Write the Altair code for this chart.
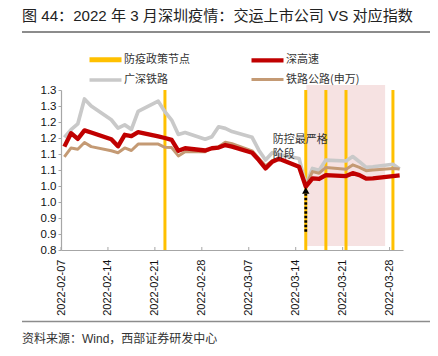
import altair as alt
import pandas as pd

# ---------------- data ----------------
dates = ["2022-02-07", "2022-02-08", "2022-02-09", "2022-02-10", "2022-02-11",
         "2022-02-14", "2022-02-15", "2022-02-16", "2022-02-17", "2022-02-18",
         "2022-02-21", "2022-02-22", "2022-02-23", "2022-02-24", "2022-02-25",
         "2022-02-28", "2022-03-01", "2022-03-02", "2022-03-03", "2022-03-04",
         "2022-03-07", "2022-03-08", "2022-03-09", "2022-03-10", "2022-03-11",
         "2022-03-14", "2022-03-15", "2022-03-16", "2022-03-17", "2022-03-18",
         "2022-03-21", "2022-03-22", "2022-03-23", "2022-03-24", "2022-03-25",
         "2022-03-28", "2022-03-29"]

shengaosu = [1.123, 1.165, 1.147, 1.174, 1.167, 1.146, 1.124, 1.160, 1.156, 1.168,
             1.155, 1.150, 1.144, 1.110, 1.118, 1.111, 1.118, 1.120, 1.128, 1.123,
             1.104, 1.081, 1.055, 1.076, 1.085, 1.060, 0.998, 1.024, 1.022, 1.034,
             1.031, 1.040, 1.034, 1.023, 1.024, 1.031, 1.033]

guangshen = [1.152, 1.176, 1.194, 1.272, 1.250, 1.207, 1.181, 1.191, 1.177, 1.233,
             1.265, 1.232, 1.206, 1.161, 1.167, 1.146, 1.154, 1.185, 1.180, 1.170,
             1.152, 1.112, 1.081, 1.104, 1.098, 1.086, 1.003, 1.055, 1.049, 1.081,
             1.078, 1.092, 1.076, 1.058, 1.060, 1.068, 1.053]

tielu = [1.091, 1.119, 1.115, 1.136, 1.123, 1.110, 1.104, 1.119, 1.111, 1.131,
         1.131, 1.121, 1.120, 1.094, 1.107, 1.107, 1.118, 1.123, 1.137, 1.132,
         1.110, 1.086, 1.063, 1.079, 1.086, 1.060, 1.000, 1.045, 1.040, 1.058,
         1.052, 1.066, 1.058, 1.048, 1.050, 1.055, 1.053]

series_names = ["防疫政策节点", "深高速", "广深铁路", "铁路公路(申万)"]
series_colors = ["#FFC000", "#C00000", "#C9C9C9", "#C49A74"]
series_widths = [5, 3, 4.5, 3]

policy_dates = ["2022-02-22", "2022-03-15", "2022-03-18", "2022-03-21", "2022-03-28"]
tick_dates = ["2022-02-07", "2022-02-14", "2022-02-21", "2022-02-28",
              "2022-03-07", "2022-03-14", "2022-03-21", "2022-03-28"]
y_ticks = [0.8, 0.85, 0.9, 0.95, 1.0, 1.05, 1.1, 1.15, 1.2, 1.25, 1.3]
y_labels = ["0.8", "0.9", "0.9", "1.0", "1.0", "1.1", "1.1", "1.2", "1.2", "1.3", "1.3"]

shade_start, shade_end = "2022-03-15T14:00", "2022-03-27T08:00"
shade_low, shade_high = 0.8125, 1.3156

arrow_date = "2022-03-15"
arrow_from, arrow_to, arrow_head = 0.857, 0.975, 0.986

note_date = "2022-03-10T14:00"
note_text = ["防控最严格", "阶段"]
note_y = [1.144, 1.097]

title_text = "图 44：2022 年 3 月深圳疫情：交运上市公司 VS 对应指数"
source_text = "资料来源：Wind，西部证券研发中心"

# ---------------- frames ----------------
half_day = pd.Timedelta(hours=12)
line_df = pd.DataFrame({
    "date": list(pd.to_datetime(dates) + half_day) * 3,
    "value": shengaosu + guangshen + tielu,
    "series": ["深高速"] * len(dates) + ["广深铁路"] * len(dates) + ["铁路公路(申万)"] * len(dates),
})
policy_df = pd.DataFrame({"date": pd.to_datetime(policy_dates) + half_day})
tick_df = pd.DataFrame({"date": pd.to_datetime(tick_dates)})
shade_df = pd.DataFrame({"s": [pd.Timestamp(shade_start)], "e": [pd.Timestamp(shade_end)],
                         "lo": [shade_low], "hi": [shade_high]})
arrow_df = pd.DataFrame({"date": [pd.Timestamp(arrow_date) + half_day],
                         "a": [arrow_from], "b": [arrow_to], "h": [arrow_head]})
note_df = pd.DataFrame({"date": [pd.Timestamp(note_date)] * 2, "v": note_y, "t": note_text})

FONT_CJK = "Noto Sans CJK SC"
FONT_LAT = "Liberation Sans, Noto Sans CJK SC"

x_scale = alt.Scale(domain=[alt.DateTime(year=2022, month=2, date=7),
                            alt.DateTime(year=2022, month=3, date=30)])
y_scale = alt.Scale(domain=[0.8, 1.3])

label_arr = "[" + ",".join("'%s'" % s for s in y_labels) + "]"

x_axis = alt.Axis(values=[alt.DateTime(year=int(d[:4]), month=int(d[5:7]), date=int(d[8:]))
                          for d in tick_dates],
                  format="%Y-%m-%d", labelAngle=270, ticks=False, labelPadding=9,
                  labelFont="Liberation Sans", labelFontSize=11, labelColor="#111",
                  domainColor="#A6A6A6", domainWidth=1.2, title=None, grid=False)
y_axis = alt.Axis(values=y_ticks, labelExpr=label_arr + "[round((datum.value-0.8)/0.05)]",
                  tickSize=3, tickColor="#A6A6A6", domainColor="#A6A6A6", domainWidth=1.2,
                  labelFont="Liberation Sans", labelFontSize=11.5, labelColor="#111",
                  labelPadding=2, title=None, grid=False)

X = alt.X("date:T", scale=x_scale, axis=x_axis)
Y = alt.Y("value:Q", scale=y_scale, axis=y_axis)

shade = alt.Chart(shade_df).mark_rect(color="#F6E2E2").encode(
    x=alt.X("s:T", scale=x_scale, axis=x_axis), x2="e:T",
    y=alt.Y("lo:Q", scale=y_scale, axis=y_axis), y2="hi:Q")

policy = alt.Chart(policy_df).mark_rule(color="#FFC000", strokeWidth=3).encode(x=X)

color_enc = alt.Color("series:N", scale=alt.Scale(domain=series_names, range=series_colors),
                      legend=alt.Legend(title=None, symbolStrokeWidth=3.5))
width_enc = alt.StrokeWidth("series:N", scale=alt.Scale(domain=series_names, range=series_widths),
                            legend=None)

def line_layer(name):
    return alt.Chart(line_df).transform_filter(alt.datum.series == name).mark_line(
        strokeJoin="round").encode(x=X, y=Y, color=color_enc, strokeWidth=width_enc)

lines = [line_layer("广深铁路"), line_layer("铁路公路(申万)"), line_layer("深高速")]

xticks = alt.Chart(tick_df).mark_rule(color="#A6A6A6", strokeWidth=1).encode(
    x=X, y=alt.value(157), y2=alt.value(160))

arrow_line = alt.Chart(arrow_df).mark_rule(color="black", strokeWidth=2.8,
                                           strokeDash=[2.5, 2]).encode(
    x=X, y=alt.Y("a:Q", scale=y_scale, axis=y_axis), y2="b:Q")
arrow_tip = alt.Chart(arrow_df).mark_point(shape="triangle-up", filled=True, size=55,
                                           color="black", opacity=1).encode(
    x=X, y=alt.Y("h:Q", scale=y_scale, axis=y_axis))

note = alt.Chart(note_df).mark_text(align="left", baseline="middle", font=FONT_CJK,
                                    fontSize=11, color="#333").encode(
    x=X, y=alt.Y("v:Q", scale=y_scale, axis=y_axis), text="t:N")

title = alt.Chart(pd.DataFrame({"t": [title_text]})).mark_text(
    align="left", baseline="middle", font=FONT_LAT, fontSize=15.1, color="#222").encode(
    x=alt.value(-39), y=alt.value(-74), text="t:N")
top_line = alt.Chart(pd.DataFrame({"t": [0]})).mark_rule(color="#8C8C8C", strokeWidth=1.8).encode(
    x=alt.value(-39), x2=alt.value(369), y=alt.value(-58))
bottom_line = alt.Chart(pd.DataFrame({"t": [0]})).mark_rule(color="#8C8C8C", strokeWidth=1.5).encode(
    x=alt.value(-39), x2=alt.value(369), y=alt.value(231.5))
source = alt.Chart(pd.DataFrame({"t": [source_text]})).mark_text(
    align="left", baseline="middle", font=FONT_LAT, fontSize=12, color="#333").encode(
    x=alt.value(-39), y=alt.value(249), text="t:N")

chart = alt.layer(shade, policy, *lines, xticks, arrow_line, arrow_tip, note,
                  title, top_line, bottom_line, source).properties(
    width=342, height=160,
    autosize=alt.AutoSizeParams(type="none"),
    padding={"left": 53, "top": 82, "right": 27, "bottom": 98},
).configure_view(stroke=None).configure_legend(
    orient="none", legendX=34, legendY=-41, columns=2, direction="horizontal",
    symbolType="M-2,0H2", symbolSize=256, labelFont=FONT_CJK, labelFontSize=11,
    labelColor="#333", labelOffset=8, columnPadding=52, rowPadding=-1, padding=0,
)

chart.save("out.html", embed_options={"renderer": "svg", "actions": False})
